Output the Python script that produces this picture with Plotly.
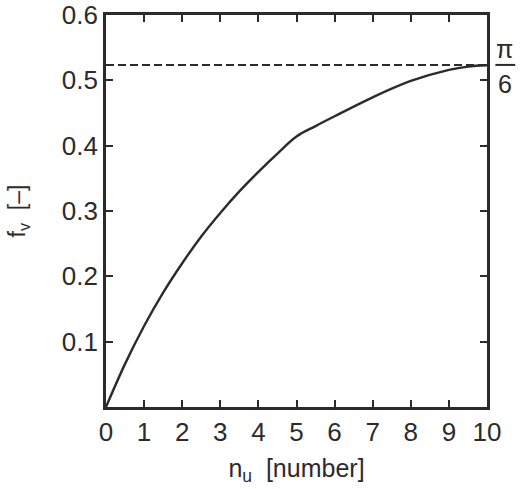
import math
import plotly.graph_objects as go

# Packing fraction f_v versus number of units n_u
n_u = [0, 0.5, 1, 1.5, 2, 2.5, 3, 3.5, 4, 4.5, 5, 5.5, 6, 7, 8, 9, 9.5, 10]
f_v = [0, 0.066, 0.124, 0.175, 0.220, 0.261, 0.297, 0.330, 0.360, 0.388,
       0.414, 0.430, 0.445, 0.474, 0.499, 0.516, 0.521, 0.523]

limit = math.pi / 6  # close-packing limit
x_ticks = list(range(0, 11))
y_ticks = [0.1, 0.2, 0.3, 0.4, 0.5, 0.6]
y_labels = ["0.1", "0.2", "0.3", "0.4", "0.5", "0.6"]

ink = "#2b2b2b"
font = "Liberation Sans"

fig = go.Figure()
fig.add_trace(go.Scatter(
    x=[0, 10], y=[limit, limit], mode="lines",
    line=dict(color=ink, width=2, dash="8px,4px"), hoverinfo="skip",
))
fig.add_trace(go.Scatter(
    x=n_u, y=f_v, mode="lines",
    line=dict(color=ink, width=2.4, shape="spline", smoothing=1.0),
))

fig.update_layout(
    width=522, height=489,
    margin=dict(l=106, r=35, t=15, b=82),
    paper_bgcolor="white", plot_bgcolor="white",
    showlegend=False,
    font=dict(family=font, color=ink),
)
fig.update_xaxes(
    range=[0, 10], tickvals=x_ticks, ticktext=[str(v) for v in x_ticks],
    ticks="inside", ticklen=7, tickwidth=2, tickcolor=ink,
    showline=True, linewidth=2.8, linecolor=ink, mirror="ticks",
    showgrid=False, zeroline=False, automargin=False,
    tickfont=dict(size=26, family=font, color=ink),
    title=dict(text="n<sub>u</sub>  [number]", font=dict(size=25, family=font, color=ink), standoff=14),
)
fig.update_yaxes(
    range=[0, 0.6], tickvals=y_ticks, ticktext=y_labels,
    ticks="inside", ticklen=7, tickwidth=2, tickcolor=ink,
    showline=True, linewidth=2.8, linecolor=ink, mirror="ticks",
    showgrid=False, zeroline=False, automargin=False,
    tickfont=dict(size=26, family=font, color=ink),
    title=dict(text="f<sub>v</sub>  [\u2013]", font=dict(size=23, family=font, color=ink), standoff=30),
)

# pi/6 fraction label at the right of the dashed limit line
fig.add_annotation(x=1.047, xref="paper", y=limit, yref="y", text="\u03c0",
                   showarrow=False, xanchor="center", yanchor="bottom", yshift=0,
                   font=dict(size=25, family=font, color=ink))
fig.add_annotation(x=1.047, xref="paper", y=limit, yref="y", text="6",
                   showarrow=False, xanchor="center", yanchor="top", yshift=-3,
                   font=dict(size=25, family=font, color=ink))
fig.add_shape(type="line", xref="paper", yref="y", x0=1.022, x1=1.074, y0=limit, y1=limit,
              line=dict(color=ink, width=2))

fig.write_html("out.html")
